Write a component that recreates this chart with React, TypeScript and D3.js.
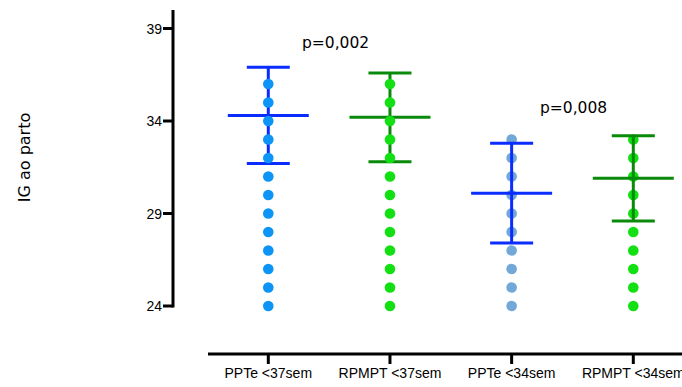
import React from "react";
import * as d3 from "d3";

// Groups along the x axis
const categories = ["PPTe <37sem", "RPMPT <37sem", "PPTe <34sem", "RPMPT <34sem"];

// Individual gestational ages (weeks) plotted per group
const pointsPPTe37 = [24, 25, 26, 27, 28, 29, 30, 31, 32, 33, 34, 35, 36];
const pointsRPMPT37 = [24, 25, 26, 27, 28, 29, 30, 31, 32, 33, 34, 35, 36];
const pointsPPTe34 = [24, 25, 26, 27, 28, 29, 30, 31, 32, 33];
const pointsRPMPT34 = [24, 25, 26, 27, 28, 29, 30, 31, 32, 33];

// Mean and error bar limits per group
const means = [34.3, 34.2, 30.1, 30.9];
const upper = [36.9, 36.6, 32.8, 33.2];
const lower = [31.7, 31.8, 27.4, 28.6];

const yTicks = [24, 29, 34, 39];

const pLabels = [
  { text: "p=0,002", x: 302, y: 48 },
  { text: "p=0,008", x: 540, y: 113 },
];

const dotColors = ["#0c95f6", "#12e012", "#72a8d8", "#12e012"];
const barColors = ["#0a2cff", "#0a8a0a", "#0a2cff", "#0a8a0a"];
const barsOnTop = [false, false, true, true];

export default function App() {
  const W = 682;
  const H = 387;
  const y = d3.scaleLinear().domain([24, 39]).range([306, 28.5]);
  const x = d3.scalePoint<string>().domain(categories).range([268.3, 633.3]);
  const groups = [pointsPPTe37, pointsRPMPT37, pointsPPTe34, pointsRPMPT34];

  const axisX = 173;
  const baseY = 354;
  const meanHalf = 40.5;
  const capHalf = 21.5;

  const renderBars = (i: number) => {
    const cx = x(categories[i])!;
    const c = barColors[i];
    return (
      <g key={`bar-${i}`} stroke={c} strokeWidth={3}>
        <line x1={cx} x2={cx} y1={y(upper[i])} y2={y(lower[i])} />
        <line x1={cx - capHalf} x2={cx + capHalf} y1={y(upper[i])} y2={y(upper[i])} />
        <line x1={cx - capHalf} x2={cx + capHalf} y1={y(lower[i])} y2={y(lower[i])} />
        <line x1={cx - meanHalf} x2={cx + meanHalf} y1={y(means[i])} y2={y(means[i])} />
      </g>
    );
  };

  const renderDots = (i: number) => {
    const cx = x(categories[i])!;
    return (
      <g key={`dots-${i}`} fill={dotColors[i]}>
        {groups[i].map((v, j) => (
          <circle key={j} cx={cx} cy={y(v)} r={5.3} />
        ))}
      </g>
    );
  };

  return (
    <svg
      width={W}
      height={H}
      style={{ position: "absolute", left: 0, top: 0, background: "#fff" }}
    >
      <rect width={W} height={H} fill="#fff" />

      {/* Y axis */}
      <line x1={axisX} x2={axisX} y1={10} y2={y(24) + 1.5} stroke="#000" strokeWidth={3} />
      {yTicks.map((t) => (
        <g key={t}>
          <line x1={163} x2={axisX} y1={y(t)} y2={y(t)} stroke="#000" strokeWidth={3} />
          <text
            x={162}
            y={y(t)}
            dy="0.36em"
            textAnchor="end"
            fontFamily="'Liberation Sans', Arial, sans-serif"
            fontSize={14}
            fill="#000"
          >
            {t}
          </text>
        </g>
      ))}
      <text
        transform={`translate(30, 157.5) rotate(-90)`}
        textAnchor="middle"
        fontFamily="'DejaVu Sans', Verdana, sans-serif"
        fontSize={16}
        fill="#000"
      >
        IG ao parto
      </text>

      {/* X axis */}
      <line x1={208} x2={W} y1={baseY} y2={baseY} stroke="#000" strokeWidth={3} />
      {categories.map((c) => (
        <g key={c}>
          <line x1={x(c)!} x2={x(c)!} y1={baseY} y2={baseY + 10} stroke="#000" strokeWidth={3} />
          <text
            x={x(c)!}
            y={378}
            textAnchor="middle"
            fontFamily="'Liberation Sans', Arial, sans-serif"
            fontSize={14}
            fill="#000"
          >
            {c}
          </text>
        </g>
      ))}

      {/* Groups */}
      {categories.map((_, i) =>
        barsOnTop[i] ? (
          <g key={i}>
            {renderDots(i)}
            {renderBars(i)}
          </g>
        ) : (
          <g key={i}>
            {renderBars(i)}
            {renderDots(i)}
          </g>
        )
      )}

      {/* Significance labels */}
      {pLabels.map((p) => (
        <text
          key={p.text}
          x={p.x}
          y={p.y}
          fontFamily="'DejaVu Sans', Verdana, sans-serif"
          fontSize={15.5}
          fill="#000"
        >
          {p.text}
        </text>
      ))}
    </svg>
  );
}
